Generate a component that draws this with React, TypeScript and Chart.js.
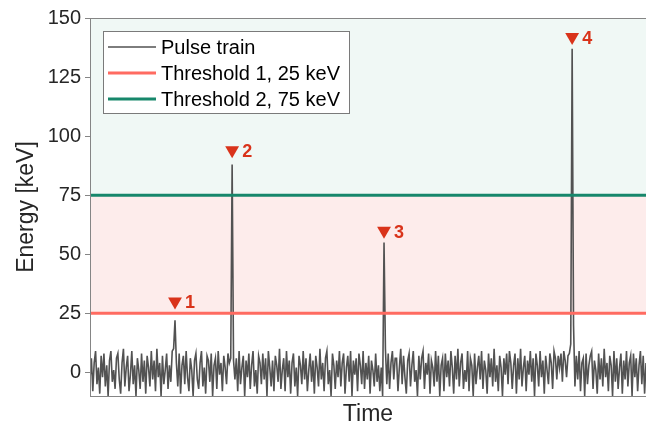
import React, { useEffect, useRef } from "react";
import { Chart, registerables } from "chart.js";

Chart.register(...registerables);

// ---- data ----
const pulseTrain: number[] = [
  -3, 6, -8, 4, 9, -5, 2, -9, 7, -2, 8, -6, 3, -10, 5, 9, -4, 1, -7, 6,
  8, -3, -9, 4, 10, -6, 2, 7, -8, -1, 9, -5, 3, -10, 6, 1, -7, 8, -4, 5,
  -9, 7, 2, -6, 9, -3, 5, -8, 10, -2, 4, -10, 7, -5, 1, 8, -7, 3, -4, 9,
  10, 22, 4, -6, 8, -9, 3, 7, -5, 9, -2, -8, 6, 1, -10, 5, 8, -3, -7, 4,
  9, -6, 2, -9, 7, 5, -4, 8, -10, 3, 6, -7, 9, -1, 4, -8, 7, 2, -5, 8,
  4, 6, 88, 5, -3, 6, -8, 9, -5, 2, 7, -10, 5, -2, 8, -7, 3, 9, -6, 1,
  -9, 7, 4, -5, 8, -3, 6, -10, 9, 2, -6, 5, -8, 7, 3, -4, 10, -7, 1, 6,
  -8, 9, -2, 5, -9, 4, 8, -6, 2, -10, 7, 3, -5, 9, -3, 6, -8, 1, 8, -4,
  5, -9, 7, 2, -6, 10, -3, 4, -8, 6, 9, -5, 1, -10, 8, 3, -7, 5, -2, 9,
  -6, 4, 8, -9, 2, 7, -4, 9, -10, 5, -1, 6, -8, 8, 3, -5, 9, -7, 4, -3,
  7, -9, 5, 1, -6, 8, -4, 3, -8, 2, -10, 55, 10, -5, 8, -7, 4, 9, -3, 6,
  6, -8, 2, 10, -5, 7, -2, -9, 5, 8, -6, 3, 9, -4, 1, -10, 7, -3, 6, 9,
  -7, 4, -1, 8, -9, 5, 2, -6, 9, -4, 7, -10, 3, 6, -8, 8, -2, 5, -6, 9,
  2, -9, 7, -3, 10, -6, 4, 8, -7, 1, -4, 9, -8, 6, 3, -10, 8, -5, 2, 7,
  -3, 9, -7, 5, 1, -9, 8, -2, 6, -6, 10, -4, 3, -8, 7, 2, -10, 6, -1, 8,
  -5, 9, 4, -7, 3, 8, -9, 6, -3, 10, -6, 2, 7, -8, 5, -1, 9, -4, 6, -10,
  8, 3, -6, 9, -2, 5, -9, 7, 1, -5, 8, 4, -7, 9, 6, -3, 7, 2, 8, -4,
  9, 5, -2, 7, 8, 12, 137, 20, -6, 7, -3, 9, -8, 4, 6, -10, 8, -5, 3, 7,
  9, -7, 5, 1, -9, 8, -3, 6, -6, 10, -2, 4, -8, 7, 3, -10, 9, -4, 6, -7,
  2, 8, -9, 5, -3, 9, -6, 4, 7, -10, 8, -2, 6, -8, 3, 9, -5, 7, -9, 4,
];
const thresholdValues: number[] = [25, 75];
const thresholdLabels: string[] = ["Threshold 1, 25 keV", "Threshold 2, 75 keV"];
const pulseLabel = "Pulse train";
const peakIndex: number[] = [61, 102, 211, 346];
const markerEnergy: number[] = [30, 94, 60, 142];
const markerLabels: string[] = ["1", "2", "3", "4"];
const yTicks: number[] = [0, 25, 50, 75, 100, 125, 150];
const yMin = -10;
const yMax = 150;
const xTitle = "Time";
const yTitle = "Energy [keV]";

// ---- styles ----
const FONT = "'Liberation Sans', Arial, Helvetica, sans-serif";
const pulseColor = "#525252";
const thresholdColors = ["#ff6b61", "#17876b"];
const bandColors = ["#fdeceb", "#f0f8f5"];
const markerColor = "#d9331a";
const textColor = "#262626";
const frameColor = "#858585";

const bandsPlugin = {
  id: "bands",
  beforeDatasetsDraw(chart: any) {
    const { ctx, chartArea: a, scales } = chart;
    const y = scales.y;
    const y1 = y.getPixelForValue(thresholdValues[0]);
    const y2 = y.getPixelForValue(thresholdValues[1]);
    const y3 = y.getPixelForValue(yMax);
    ctx.save();
    ctx.fillStyle = bandColors[0];
    ctx.fillRect(a.left, y2, a.right - a.left, y1 - y2);
    ctx.fillStyle = bandColors[1];
    ctx.fillRect(a.left, y3, a.right - a.left, y2 - y3);
    ctx.restore();
  },
};

const overlayPlugin = {
  id: "overlay",
  afterDatasetsDraw(chart: any) {
    const { ctx, chartArea: a, scales } = chart;
    const xs = scales.x;
    const ys = scales.y;
    ctx.save();
    // marker labels
    ctx.fillStyle = markerColor;
    ctx.font = `bold 18px ${FONT}`;
    ctx.textAlign = "left";
    ctx.textBaseline = "middle";
    markerLabels.forEach((lab, i) => {
      const px = xs.getPixelForValue(peakIndex[i]);
      const py = ys.getPixelForValue(markerEnergy[i]);
      ctx.fillText(lab, px + 10, py + 2);
    });
    // frame
    ctx.strokeStyle = frameColor;
    ctx.lineWidth = 1;
    ctx.strokeRect(Math.round(a.left) + 0.5, Math.round(a.top) + 0.5, a.right - a.left, a.bottom - a.top);
    // legend
    const bx = a.left + 13;
    const by = a.top + 13;
    const bw = 246;
    const bh = 82;
    ctx.fillStyle = "#ffffff";
    ctx.fillRect(bx, by, bw, bh);
    ctx.strokeStyle = "#7a7a7a";
    ctx.strokeRect(Math.round(bx) + 0.5, Math.round(by) + 0.5, bw, bh);
    const entries = [
      { label: pulseLabel, color: pulseColor, width: 1.4 },
      { label: thresholdLabels[0], color: thresholdColors[0], width: 3 },
      { label: thresholdLabels[1], color: thresholdColors[1], width: 3 },
    ];
    ctx.font = `20px ${FONT}`;
    ctx.textBaseline = "middle";
    entries.forEach((e, i) => {
      const cy = by + 16 + i * 26;
      ctx.strokeStyle = e.color;
      ctx.lineWidth = e.width;
      ctx.beginPath();
      ctx.moveTo(bx + 5, cy);
      ctx.lineTo(bx + 53, cy);
      ctx.stroke();
      ctx.fillStyle = "#000000";
      ctx.fillText(e.label, bx + 58, cy + 1);
    });
    ctx.restore();
  },
};

export default function App() {
  const ref = useRef<HTMLCanvasElement | null>(null);
  useEffect(() => {
    document.body.style.margin = "0";
    if (!ref.current) return;
    const last = pulseTrain.length - 1;
    const chart = new Chart(ref.current, {
      type: "line",
      data: {
        datasets: [
          {
            label: "markers",
            data: peakIndex.map((x, i) => ({ x, y: markerEnergy[i] })),
            showLine: false,
            pointStyle: "triangle",
            rotation: 180,
            pointRadius: 8,
            pointBackgroundColor: markerColor,
            pointBorderWidth: 0,
            borderColor: markerColor,
            order: 0,
            clip: false,
          } as any,
          {
            label: thresholdLabels[0],
            data: [{ x: 0, y: thresholdValues[0] }, { x: last, y: thresholdValues[0] }],
            borderColor: thresholdColors[0],
            borderWidth: 3,
            pointRadius: 0,
            order: 1,
          },
          {
            label: thresholdLabels[1],
            data: [{ x: 0, y: thresholdValues[1] }, { x: last, y: thresholdValues[1] }],
            borderColor: thresholdColors[1],
            borderWidth: 3,
            pointRadius: 0,
            order: 1,
          },
          {
            label: pulseLabel,
            data: pulseTrain.map((y, x) => ({ x, y })),
            borderColor: pulseColor,
            borderWidth: 1.6,
            pointRadius: 0,
            tension: 0,
            order: 3,
          },
        ],
      },
      options: {
        animation: false,
        responsive: false,
        events: [],
        layout: { autoPadding: false, padding: { top: 18, right: 0, left: 0, bottom: 0 } },
        plugins: { legend: { display: false }, tooltip: { enabled: false } },
        scales: {
          x: {
            type: "linear",
            min: 0,
            max: last,
            ticks: { display: false },
            grid: { display: false },
            border: { display: false },
            title: {
              display: true,
              text: xTitle,
              color: textColor,
              font: { family: FONT, size: 23 },
              padding: { top: 4, bottom: 4 },
            },
            afterFit(s: any) {
              s.height = 36;
            },
          },
          y: {
            min: yMin,
            max: yMax,
            afterBuildTicks(s: any) {
              s.ticks = yTicks.map((v) => ({ value: v }));
            },
            ticks: {
              color: textColor,
              font: { family: FONT, size: 20 },
              padding: 4,
            },
            grid: {
              display: true,
              drawOnChartArea: false,
              drawTicks: true,
              tickLength: 5,
              color: frameColor,
            },
            border: { display: true, color: frameColor },
            title: {
              display: true,
              text: yTitle,
              color: textColor,
              font: { family: FONT, size: 23 },
              padding: { top: 13, bottom: 13 },
            },
            afterFit(s: any) {
              s.width = 90;
            },
          },
        },
      },
      plugins: [bandsPlugin, overlayPlugin],
    });
    return () => chart.destroy();
  }, []);
  return (
    <div style={{ width: 646, height: 432 }}>
      <canvas ref={ref} width={646} height={432} style={{ display: "block" }} />
    </div>
  );
}
